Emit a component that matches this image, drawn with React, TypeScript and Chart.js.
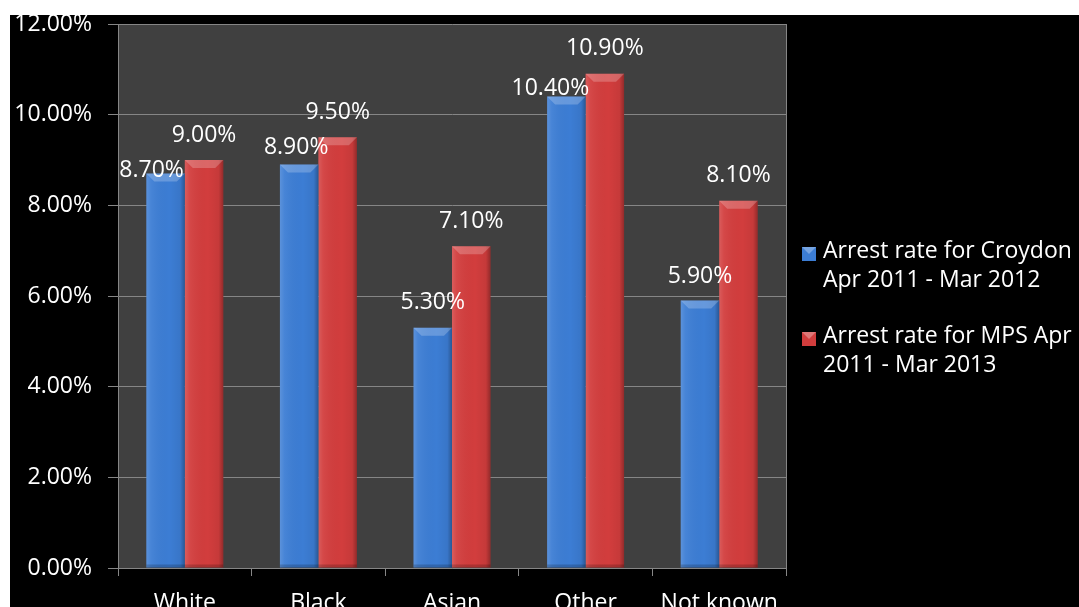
import React, { useEffect, useRef } from 'react';
import { Chart, registerables } from 'chart.js';

Chart.register(...registerables);

const categories = ['White', 'Black', 'Asian', 'Other', 'Not known'];
const croydonRates = [8.7, 8.9, 5.3, 10.4, 5.9];
const mpsRates = [9.0, 9.5, 7.1, 10.9, 8.1];
const croydonLegend = ['Arrest rate for Croydon', 'Apr 2011 - Mar 2012'];
const mpsLegend = ['Arrest rate for MPS Apr', '2011 - Mar 2013'];
const yTickValues = [0, 2, 4, 6, 8, 10, 12];

const FONT = '"Open Sans", "DejaVu Sans", sans-serif';
const GRID = '#868686';
const BLUE = '#3c7dd4';
const RED = '#d23d3d';

const fmt = (v: number) => v.toFixed(2) + '%';

const plotBgPlugin = {
  id: 'plotBg',
  beforeDraw(chart: any) {
    const { ctx, chartArea: a } = chart;
    ctx.save();
    ctx.fillStyle = '#404040';
    ctx.fillRect(a.left, a.top, a.right - a.left, a.bottom - a.top);
    ctx.restore();
  },
  beforeDatasetsDraw(chart: any) {
    const { ctx, chartArea: a } = chart;
    ctx.save();
    ctx.strokeStyle = GRID;
    ctx.lineWidth = 1;
    ctx.beginPath();
    ctx.moveTo(Math.round(a.right) + 0.5, a.top);
    ctx.lineTo(Math.round(a.right) + 0.5, a.bottom);
    ctx.stroke();
    ctx.restore();
  },
};

const barStylePlugin = {
  id: 'barStyle',
  afterDatasetsDraw(chart: any, _args: any, opts: any) {
    const ctx = chart.ctx;
    ctx.save();
    chart.data.datasets.forEach((_ds: any, di: number) => {
      const meta = chart.getDatasetMeta(di);
      meta.data.forEach((bar: any) => {
        const { x, y, base, width } = bar.getProps(['x', 'y', 'base', 'width'], true);
        const l = x - width / 2;
        const r = x + width / 2;
        const h = base - y;
        const g = ctx.createLinearGradient(l, 0, r, 0);
        g.addColorStop(0, 'rgba(255,255,255,0.16)');
        g.addColorStop(0.12, 'rgba(255,255,255,0.06)');
        g.addColorStop(0.6, 'rgba(0,0,0,0)');
        g.addColorStop(0.88, 'rgba(0,0,0,0.06)');
        g.addColorStop(1, 'rgba(0,0,0,0.3)');
        ctx.fillStyle = g;
        ctx.fillRect(l, y, width, h);
        const b = Math.min(8, h / 2);
        ctx.beginPath();
        ctx.moveTo(l, y);
        ctx.lineTo(r, y);
        ctx.lineTo(r - b, y + b);
        ctx.lineTo(l + b, y + b);
        ctx.closePath();
        ctx.fillStyle = 'rgba(255,255,255,0.22)';
        ctx.fill();
        ctx.fillStyle = 'rgba(0,0,0,0.18)';
        ctx.fillRect(l, base - 3, width, 3);
      });
    });
    ctx.font = `23px ${FONT}`;
    ctx.fillStyle = '#ffffff';
    ctx.textAlign = 'center';
    ctx.textBaseline = 'middle';
    chart.data.datasets.forEach((ds: any, di: number) => {
      const meta = chart.getDatasetMeta(di);
      const nudges = (opts.nudges && opts.nudges[di]) || [];
      meta.data.forEach((bar: any, i: number) => {
        const { x, y } = bar.getProps(['x', 'y'], true);
        const n = nudges[i] || [0, 0];
        ctx.fillText(fmt(ds.data[i]), x + n[0], y - opts.offset + n[1]);
      });
    });
    ctx.restore();
  },
};

const sideLegendPlugin = {
  id: 'sideLegend',
  afterDraw(chart: any) {
    const { ctx, chartArea: a } = chart;
    ctx.save();
    ctx.font = `23px ${FONT}`;
    ctx.textAlign = 'left';
    ctx.textBaseline = 'alphabetic';
    const boxX = a.right + 16;
    const textX = a.right + 37;
    let baseY = (a.top + a.bottom) / 2 - 38;
    chart.data.datasets.forEach((ds: any) => {
      const bs = 14;
      const by = baseY - 4 - bs / 2;
      ctx.fillStyle = ds.backgroundColor;
      ctx.fillRect(boxX, by, bs, bs);
      ctx.beginPath();
      ctx.moveTo(boxX, by);
      ctx.lineTo(boxX + bs, by);
      ctx.lineTo(boxX + bs / 2, by + bs / 2);
      ctx.closePath();
      ctx.fillStyle = 'rgba(255,255,255,0.3)';
      ctx.fill();
      ctx.fillStyle = '#ffffff';
      (ds.legendLines as string[]).forEach((t, j) => {
        ctx.fillText(t, textX, baseY + j * 29);
      });
      baseY += 85;
    });
    ctx.restore();
  },
};

export default function App() {
  const canvasRef = useRef<HTMLCanvasElement | null>(null);

  useEffect(() => {
    document.body.style.margin = '0';
    const canvas = canvasRef.current;
    if (!canvas) return;
    const chart = new Chart(canvas, {
      type: 'bar',
      data: {
        labels: categories,
        datasets: [
          {
            label: croydonLegend.join(' '),
            data: croydonRates,
            backgroundColor: BLUE,
            borderWidth: 0,
            categoryPercentage: 0.576,
            barPercentage: 1,
            legendLines: croydonLegend,
          } as any,
          {
            label: mpsLegend.join(' '),
            data: mpsRates,
            backgroundColor: RED,
            borderWidth: 0,
            categoryPercentage: 0.576,
            barPercentage: 1,
            legendLines: mpsLegend,
          } as any,
        ],
      },
      options: {
        animation: false,
        responsive: false,
        devicePixelRatio: 1,
        layout: { padding: { top: 24, right: 293, bottom: 0, left: 0 } },
        plugins: {
          legend: { display: false },
          tooltip: { enabled: false },
          barStyle: {
            offset: 25,
            nudges: [
              [[-14, 22], [-3, 8], [0, 0], [-16, 17], [0, 1]],
              [[0, 0], [0, 0], [0, 0], [0, 0], [0, 0]],
            ],
          },
        } as any,
        scales: {
          x: {
            grid: {
              display: true,
              drawOnChartArea: false,
              drawTicks: true,
              tickLength: 8,
              color: GRID,
              offset: true,
            },
            border: { display: true, color: GRID },
            ticks: {
              color: '#ffffff',
              font: { family: FONT, size: 23 },
              padding: 14,
              maxRotation: 0,
              autoSkip: false,
            },
            afterFit(scale: any) {
              scale.height = 50;
            },
          },
          y: {
            min: 0,
            max: 12,
            grid: {
              display: true,
              drawOnChartArea: true,
              drawTicks: true,
              tickLength: 10,
              color: GRID,
            },
            border: { display: true, color: GRID },
            ticks: {
              color: '#ffffff',
              font: { family: FONT, size: 23 },
              padding: 16,
              callback: (v: any) => fmt(Number(v)),
            },
            afterBuildTicks(scale: any) {
              scale.ticks = yTickValues.map((v) => ({ value: v }));
            },
            afterFit(scale: any) {
              scale.width = 118;
              scale.paddingTop = 0;
              scale.paddingBottom = 0;
            },
          },
        },
      },
      plugins: [plotBgPlugin, barStylePlugin, sideLegendPlugin],
    });
    return () => chart.destroy();
  }, []);

  return (
    <div
      style={{
        position: 'relative',
        width: 1079,
        height: 607,
        overflow: 'hidden',
        background: '#ffffff',
      }}
    >
      <div
        style={{
          position: 'absolute',
          left: 10,
          top: 15,
          right: 0,
          bottom: 0,
          background: '#000000',
        }}
      />
      <canvas
        ref={canvasRef}
        width={1079}
        height={618}
        style={{ position: 'absolute', left: 0, top: 0, width: 1079, height: 618 }}
      />
    </div>
  );
}
